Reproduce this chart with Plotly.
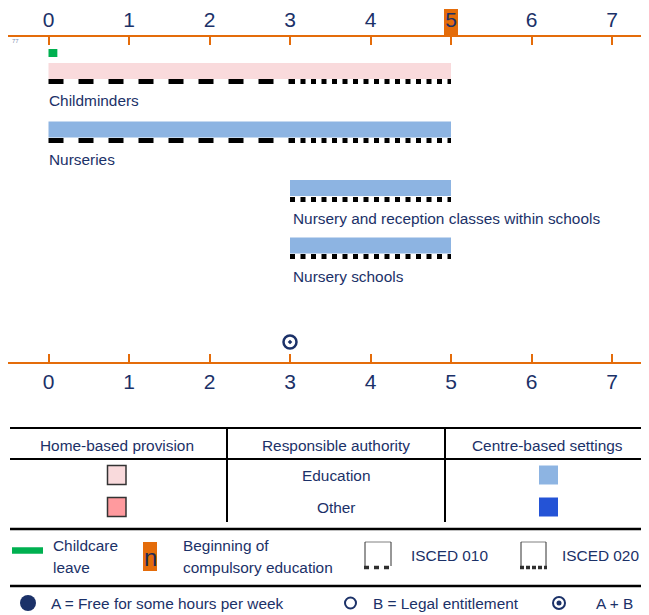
import plotly.graph_objects as go

# reference canvas is 649x615; the page body adds an 8px margin, so the
# figure itself is 8px smaller and every position below is given in the
# reference's pixel space.
W, H = 649, 615
OFF = 8
FW, FH = W - OFF, H - OFF

# ---- data -------------------------------------------------------------
ages = [0, 1, 2, 3, 4, 5, 6, 7]
compulsory_age = 5

settings = ["Childminders", "Nurseries",
            "Nursery and reception classes within schools", "Nursery schools"]
setting_start = [0, 0, 3, 3]
setting_end = [5, 5, 5, 5]
setting_kind = ["home", "centre", "centre", "centre"]
setting_authority = ["Education", "Education", "Education", "Education"]
isced010_start = [0, 0, None, None]
isced010_end = [3, 3, None, None]
isced020_start = [3, 3, 3, 3]
isced020_end = [5, 5, 5, 5]

leave_start = [0]
leave_end = [0.11]

entitlement_age = [3]
entitlement_type = ["A + B"]

# ---- style ------------------------------------------------------------
ORANGE = "#E46C0A"
NAVY = "#1B3168"
GREEN = "#00B050"
COLORS = {
    ("home", "Education"): "#F9DADC",
    ("home", "Other"): "#FF9A9E",
    ("centre", "Education"): "#8DB4E2",
    ("centre", "Other"): "#2453D6",
}
FONT = "Liberation Sans, Arial, sans-serif"
FS = 15.4

X0_PX, PX_PER_YEAR = 48.5, 80.5


def px2x(px):
    return (px - X0_PX) / PX_PER_YEAR


def pp(px):
    # reference x pixel -> paper fraction
    return (px - OFF) / FW


XRANGE = [px2x(OFF), px2x(W)]

bar_y = [71, 129.5, 188, 245.5]
line_y = [81.5, 140.5, 199.5, 256.5]
label_y = [100, 159, 218, 276]

fig = go.Figure()

# childcare leave
fig.add_trace(go.Bar(
    orientation="h", base=leave_start,
    x=[e - s for s, e in zip(leave_start, leave_end)],
    y=[53], width=8, marker=dict(color=GREEN, line=dict(width=0)),
    hoverinfo="skip",
))

# settings bars
for i, name in enumerate(settings):
    col = COLORS[(setting_kind[i], setting_authority[i])]
    fig.add_trace(go.Bar(
        orientation="h", base=[setting_start[i]],
        x=[setting_end[i] - setting_start[i]], y=[bar_y[i]], width=16,
        marker=dict(color=col, line=dict(width=0)), hoverinfo="skip",
    ))
    if isced010_start[i] is not None:
        fig.add_trace(go.Scatter(
            x=[isced010_start[i], isced010_end[i]], y=[line_y[i]] * 2,
            mode="lines", line=dict(color="black", width=5, dash="15px,15px"),
            hoverinfo="skip",
        ))
    fig.add_trace(go.Scatter(
        x=[isced020_start[i], isced020_end[i]], y=[line_y[i]] * 2,
        mode="lines", line=dict(color="black", width=5, dash="5px,5.5px"),
        hoverinfo="skip",
    ))
    fig.add_annotation(
        x=setting_start[i], y=label_y[i], xref="x", yref="y", text=name,
        showarrow=False, xanchor="left", yanchor="middle",
        xshift=-2 if setting_start[i] == 0 else 1,
        font=dict(size=FS, color=NAVY),
    )

# entitlement marker
fig.add_trace(go.Scatter(
    x=entitlement_age, y=[342], xaxis="x2", mode="markers",
    marker=dict(symbol="circle-open-dot", size=13, color=NAVY,
                line=dict(width=2.5, color=NAVY)),
    hoverinfo="skip",
))

# compulsory education highlight behind tick label
fig.add_shape(type="rect", xref="x", yref="y", layer="below",
              x0=compulsory_age - 0.087, x1=compulsory_age + 0.087, y0=9, y1=36,
              fillcolor=ORANGE, line=dict(width=0))

fig.add_annotation(x=pp(10), y=41, xref="paper", yref="y", text="77",
                   showarrow=False, xanchor="left", yanchor="middle",
                   font=dict(size=6, color="#8090B0"))


def hline(x0, x1, y, width=2, color="black", dash=None):
    fig.add_shape(type="line", xref="paper", yref="y", x0=pp(x0), x1=pp(x1),
                  y0=y, y1=y, line=dict(color=color, width=width, dash=dash))


def vline(x, y0, y1, width=2, color="black"):
    fig.add_shape(type="line", xref="paper", yref="y", x0=pp(x), x1=pp(x),
                  y0=y0, y1=y1, line=dict(color=color, width=width))


def rect(x0, x1, y0, y1, fill, line_color=None, lw=1):
    fig.add_shape(type="rect", xref="paper", yref="y", x0=pp(x0), x1=pp(x1),
                  y0=y0, y1=y1, fillcolor=fill,
                  line=dict(color=line_color or fill, width=lw if line_color else 0))


def text(x, y, t, anchor="left", size=FS):
    fig.add_annotation(x=pp(x), y=y, xref="paper", yref="y", text=t,
                       showarrow=False, xanchor=anchor, yanchor="middle",
                       font=dict(size=size, color=NAVY))


# ---- key table --------------------------------------------------------
hline(10, W, 428)
hline(10, W, 459)
hline(10, W, 529, width=2.5)
hline(10, W, 586, width=2.5)
vline(227, 428, 522)
vline(445, 428, 522)

text(117, 445, "Home-based provision", "center")
text(336, 445, "Responsible authority", "center")
text(547, 445, "Centre-based settings", "center")
for ry, auth in zip([475, 507], ["Education", "Other"]):
    text(336, ry, auth, "center")
    rect(107.5, 126, ry - 9.5, ry + 9.5, COLORS[("home", auth)], "#333333", 1.5)
    rect(539, 558, ry - 9.5, ry + 9.5, COLORS[("centre", auth)])

# ---- legend row -------------------------------------------------------
hline(12, 43, 550.5, width=6.5, color=GREEN)
text(51, 545, "Childcare")
text(51, 567, "leave")
rect(143, 157, 542, 571, ORANGE)
fig.add_annotation(x=pp(150), y=557, xref="paper", yref="y", text="n",
                   showarrow=False, xanchor="center", yanchor="middle",
                   font=dict(size=24, color="#1F2A55"))
text(181, 545, "Beginning of")
text(181, 567, "compulsory education")

for ix, iw, lab, dash, tx in [(365, 26, "ISCED 010", "5px,5px", 409),
                              (521, 25, "ISCED 020", "4px,2px", 560)]:
    hline(ix, ix + iw, 542, width=1, color="#808080")
    vline(ix, 542, 566, width=1, color="#303030")
    vline(ix + iw, 542, 566, width=1, color="#303030")
    hline(ix - 1, ix + iw + 1, 567.5, width=3.5, color="#303030", dash=dash)
    text(tx, 555, lab)

# ---- entitlement key --------------------------------------------------
fig.add_shape(type="circle", xref="paper", yref="y", x0=pp(20), x1=pp(36),
              y0=595, y1=611, fillcolor=NAVY, line=dict(width=0))
text(49, 603, "A = Free for some hours per week")
fig.add_shape(type="circle", xref="paper", yref="y", x0=pp(345), x1=pp(356),
              y0=597.5, y1=608.5, line=dict(color=NAVY, width=2))
text(371, 603, "B = Legal entitlement")
fig.add_shape(type="circle", xref="paper", yref="y", x0=pp(553), x1=pp(565),
              y0=597, y1=609, line=dict(color=NAVY, width=2))
fig.add_shape(type="circle", xref="paper", yref="y", x0=pp(556.5), x1=pp(561.5),
              y0=600.5, y1=605.5, fillcolor=NAVY, line=dict(width=0))
text(594, 603, "A + B")

axis_common = dict(
    range=XRANGE, domain=[0, 1], anchor="free", showline=True,
    linecolor=ORANGE, linewidth=2, ticks="inside", ticklen=8, tickwidth=2,
    tickcolor=ORANGE, tickvals=ages, ticktext=[str(a) for a in ages],
    tickfont=dict(size=21, color=NAVY), showgrid=False, zeroline=False,
    fixedrange=True,
)

fig.update_layout(
    width=FW, height=FH,
    margin=dict(l=0, r=0, t=0, b=0),
    paper_bgcolor="white", plot_bgcolor="rgba(0,0,0,0)",
    showlegend=False, barmode="overlay",
    font=dict(family=FONT, color=NAVY),
    xaxis=dict(side="top", position=1 - (36 - OFF) / FH, **axis_common),
    xaxis2=dict(side="bottom", overlaying="x", position=1 - (363 - OFF) / FH,
                **axis_common),
    yaxis=dict(range=[H, OFF], domain=[0, 1], visible=False, fixedrange=True),
)

fig.write_html("out.html")
